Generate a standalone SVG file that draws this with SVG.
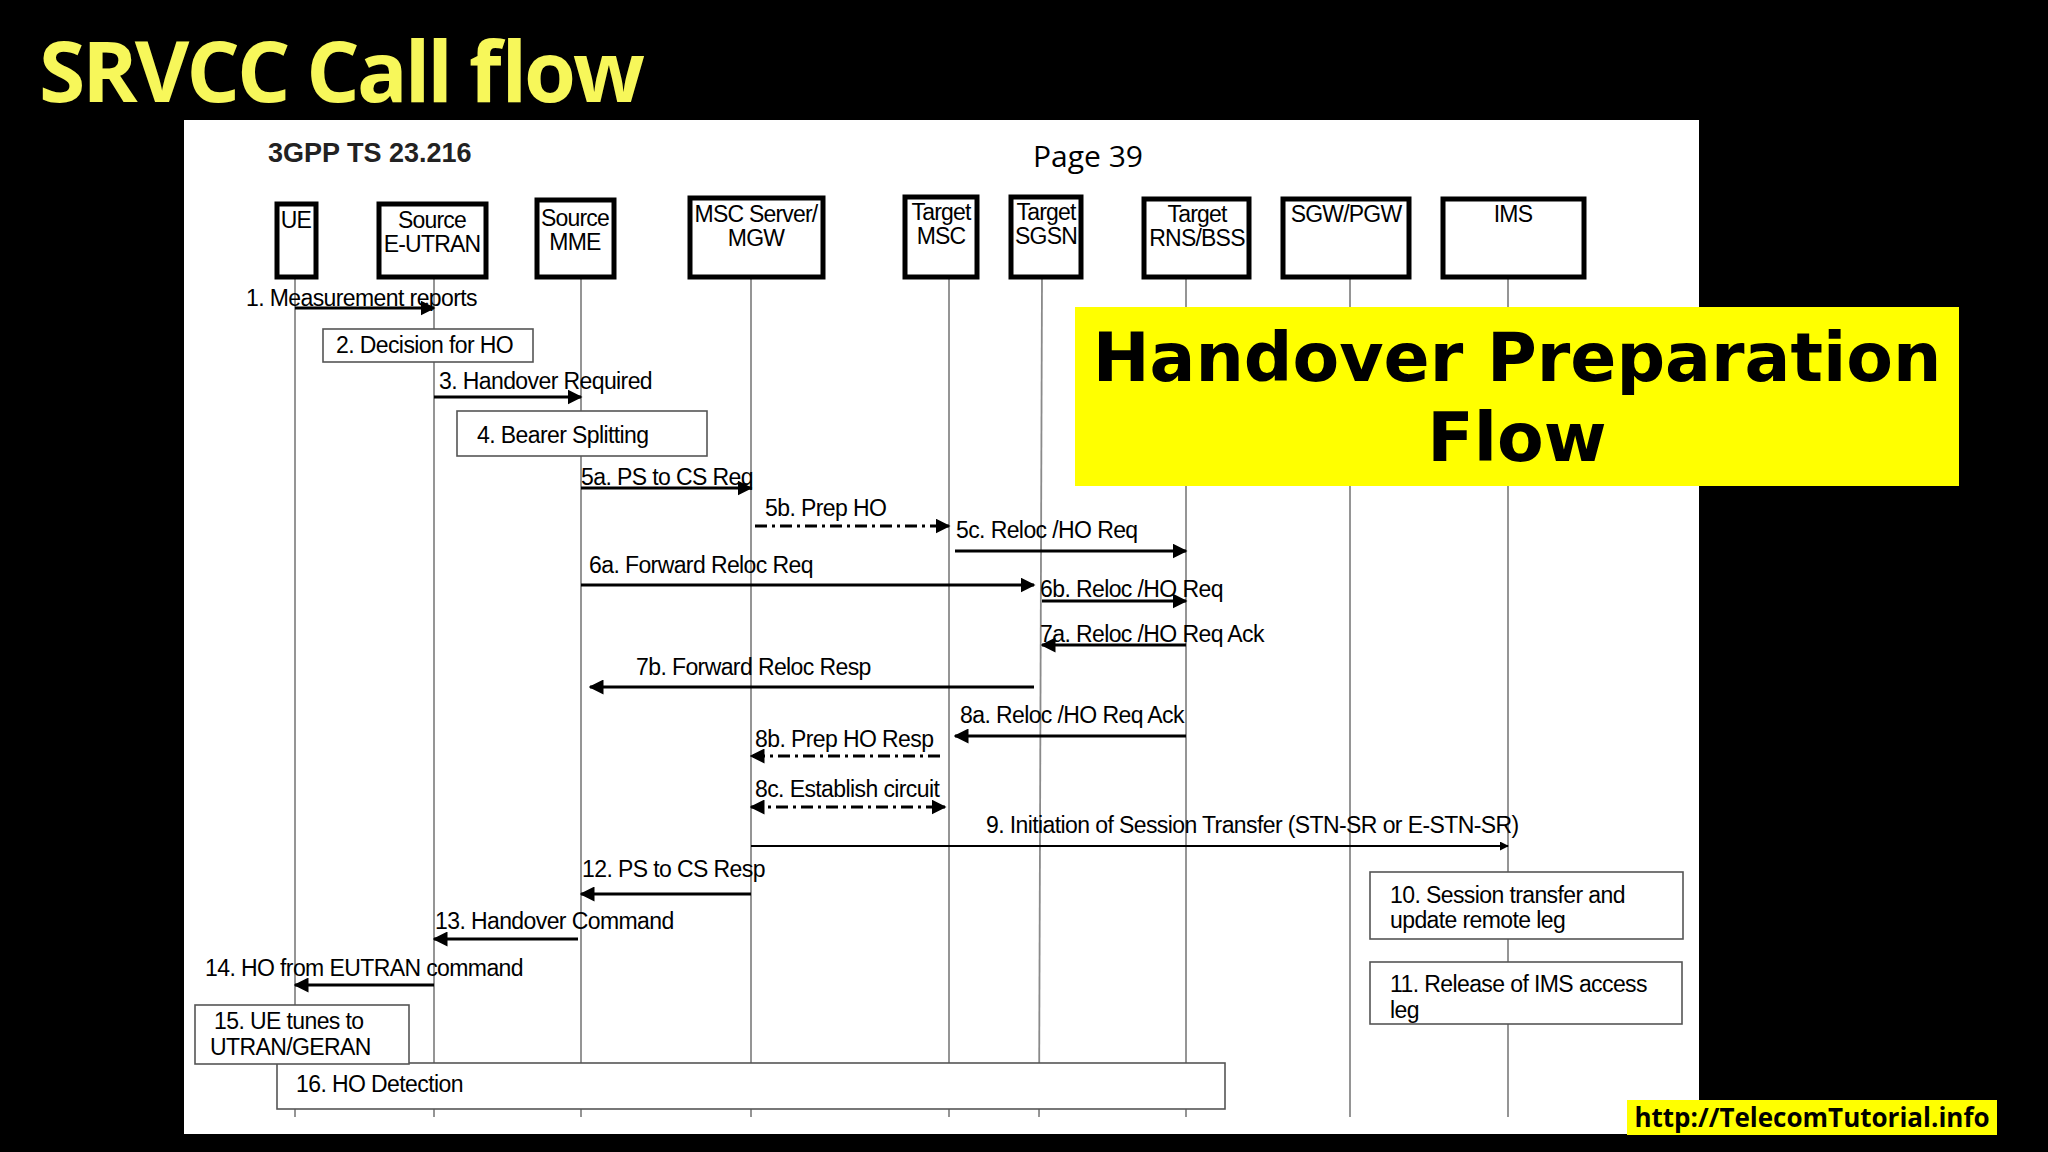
<svg xmlns="http://www.w3.org/2000/svg" width="2048" height="1152" viewBox="0 0 2048 1152">
<style>
.t{font-family:"Liberation Sans",Arial,sans-serif;font-size:23px;fill:#000;letter-spacing:-0.6px}
.n{font-family:"Liberation Sans",Arial,sans-serif;font-size:23px;fill:#000;text-anchor:middle;letter-spacing:-0.8px}
.hb{fill:#fff;stroke:#000;stroke-width:5}
.ll{stroke:#8a8a8a;stroke-width:1.8}
.box{fill:#fff;stroke:#555;stroke-width:1.6}
.m{stroke:#000;stroke-width:3;fill:none;marker-end:url(#ah)}
.d{stroke:#000;stroke-width:3;fill:none;stroke-dasharray:12,5,3,5;marker-end:url(#ah)}
</style>
<defs>
<marker id="ah" viewBox="0 0 10 10" refX="9" refY="5" markerWidth="5" markerHeight="5" orient="auto-start-reverse" markerUnits="strokeWidth"><path d="M0,0L10,5L0,10z" fill="#000"/></marker>
</defs>
<rect width="2048" height="1152" fill="#000"/>
<text x="39" y="102" font-family="'Open Sans',sans-serif" font-weight="bold" font-size="84" fill="#f7f75a" textLength="606">SRVCC Call flow</text>
<rect x="184" y="120" width="1515" height="1014" fill="#fff"/>
<text x="268" y="162" font-family="'Liberation Sans',sans-serif" font-weight="bold" font-size="27" fill="#222">3GPP TS 23.216</text>
<text x="1033" y="167" font-family="'Open Sans',sans-serif" font-size="30" fill="#000">Page 39</text>
<g id="lifelines">
<line class="ll" x1="295" y1="277" x2="295" y2="1117"/>
<line class="ll" x1="434" y1="277" x2="434" y2="1117"/>
<line class="ll" x1="581" y1="277" x2="581" y2="1117"/>
<line class="ll" x1="751" y1="277" x2="751" y2="1117"/>
<line class="ll" x1="949" y1="277" x2="949" y2="1117"/>
<line class="ll" x1="1042" y1="277" x2="1039" y2="1117"/>
<line class="ll" x1="1186" y1="277" x2="1186" y2="1117"/>
<line class="ll" x1="1350" y1="277" x2="1350" y2="1117"/>
<line class="ll" x1="1508" y1="277" x2="1508" y2="1117"/>
</g>
<g id="ue"><rect class="hb" x="277" y="204" width="39" height="73"/><text class="n" x="296" y="228">UE</text></g>
<g id="eutran"><rect class="hb" x="379" y="204" width="107" height="73"/><text class="n" x="432" y="228">Source</text><text class="n" x="432" y="252">E-UTRAN</text></g>
<g id="mme"><rect class="hb" x="537" y="200" width="77" height="77"/><text class="n" x="575" y="226">Source</text><text class="n" x="575" y="250">MME</text></g>
<g id="msc"><rect class="hb" x="690" y="198" width="133" height="79"/><text class="n" x="756" y="222">MSC Server/</text><text class="n" x="756" y="246">MGW</text></g>
<g id="tmsc"><rect class="hb" x="905" y="197" width="72" height="80"/><text class="n" x="941" y="220">Target</text><text class="n" x="941" y="244">MSC</text></g>
<g id="sgsn"><rect class="hb" x="1011" y="197" width="70" height="80"/><text class="n" x="1046" y="220">Target</text><text class="n" x="1046" y="244">SGSN</text></g>
<g id="rns"><rect class="hb" x="1144" y="199" width="105" height="78"/><text class="n" x="1197" y="222">Target</text><text class="n" x="1197" y="246">RNS/BSS</text></g>
<g id="sgw"><rect class="hb" x="1283" y="199" width="126" height="78"/><text class="n" x="1346" y="222">SGW/PGW</text></g>
<g id="ims"><rect class="hb" x="1443" y="199" width="141" height="78"/><text class="n" x="1513" y="222">IMS</text></g>
<g id="connectors">
<line class="m" x1="295" y1="308" x2="434" y2="308"/>
<line class="m" x1="434" y1="397" x2="581" y2="397"/>
<line class="m" x1="581" y1="488" x2="751" y2="488"/>
<line class="d" x1="755" y1="526" x2="949" y2="526"/>
<line class="m" x1="955" y1="551" x2="1186" y2="551"/>
<line class="m" x1="581" y1="585" x2="1034" y2="585"/>
<line class="m" x1="1042" y1="601" x2="1186" y2="601"/>
<line class="m" x1="1186" y1="645" x2="1042" y2="645"/>
<line class="m" x1="1034" y1="687" x2="590" y2="687"/>
<line class="m" x1="1186" y1="736" x2="955" y2="736"/>
<line class="d" x1="940" y1="756" x2="751" y2="756"/>
<line class="d" x1="751" y1="807" x2="945" y2="807" marker-start="url(#ah)"/>
<line x1="751" y1="846" x2="1508" y2="846" stroke="#000" stroke-width="1.8" marker-end="url(#ah)"/>
<line class="m" x1="751" y1="894" x2="581" y2="894"/>
<line class="m" x1="578" y1="939" x2="434" y2="939"/>
<line class="m" x1="434" y1="985" x2="295" y2="985"/>
</g>
<g id="labels">
<text class="t" x="246" y="306">1. Measurement reports</text>
<text class="t" x="439" y="389">3. Handover Required</text>
<text class="t" x="581" y="485">5a. PS to CS Req</text>
<text class="t" x="765" y="516">5b. Prep HO</text>
<text class="t" x="956" y="538">5c. Reloc /HO Req</text>
<text class="t" x="589" y="573">6a. Forward Reloc Req</text>
<text class="t" x="1040" y="597">6b. Reloc /HO Req</text>
<text class="t" x="1040" y="642">7a. Reloc /HO Req Ack</text>
<text class="t" x="636" y="675">7b. Forward Reloc Resp</text>
<text class="t" x="960" y="723">8a. Reloc /HO Req Ack</text>
<text class="t" x="755" y="747">8b. Prep HO Resp</text>
<text class="t" x="755" y="797">8c. Establish circuit</text>
<text class="t" x="986" y="833">9. Initiation of Session Transfer (STN-SR or E-STN-SR)</text>
<text class="t" x="582" y="877">12. PS to CS Resp</text>
<text class="t" x="435" y="929">13. Handover Command</text>
<text class="t" x="205" y="976">14. HO from EUTRAN command</text>
</g>
<g id="n2"><rect class="box" x="323" y="329" width="210" height="33"/><text class="t" x="336" y="353">2. Decision for HO</text></g>
<g id="n4"><rect class="box" x="457" y="411" width="250" height="45"/><text class="t" x="477" y="443">4. Bearer Splitting</text></g>
<g id="n10"><rect class="box" x="1370" y="872" width="313" height="67"/><text class="t" x="1390" y="903">10. Session transfer and</text><text class="t" x="1390" y="928">update remote leg</text></g>
<g id="n11"><rect class="box" x="1370" y="962" width="312" height="62"/><text class="t" x="1390" y="992">11. Release of IMS access</text><text class="t" x="1390" y="1018">leg</text></g>
<g id="n16"><rect class="box" x="277" y="1063" width="948" height="46"/><text class="t" x="296" y="1092">16. HO Detection</text></g>
<g id="n15"><rect class="box" x="195" y="1005" width="214" height="59"/><text class="t" x="214" y="1029">15. UE tunes to</text><text class="t" x="210" y="1055">UTRAN/GERAN</text></g>
<g id="banner"><rect x="1075" y="307" width="884" height="179" fill="#ffff00"/>
<text x="1517" y="381" text-anchor="middle" font-family="'DejaVu Sans',sans-serif" font-weight="bold" font-size="68" fill="#000">Handover Preparation</text>
<text x="1517" y="461" text-anchor="middle" font-family="'DejaVu Sans',sans-serif" font-weight="bold" font-size="68" fill="#000">Flow</text></g>
<g id="url"><rect x="1627" y="1100" width="370" height="35" fill="#ffff00"/>
<text x="1812" y="1127" text-anchor="middle" font-family="'Open Sans',sans-serif" font-weight="bold" font-size="26" fill="#000">http://TelecomTutorial.info</text></g>
</svg>
